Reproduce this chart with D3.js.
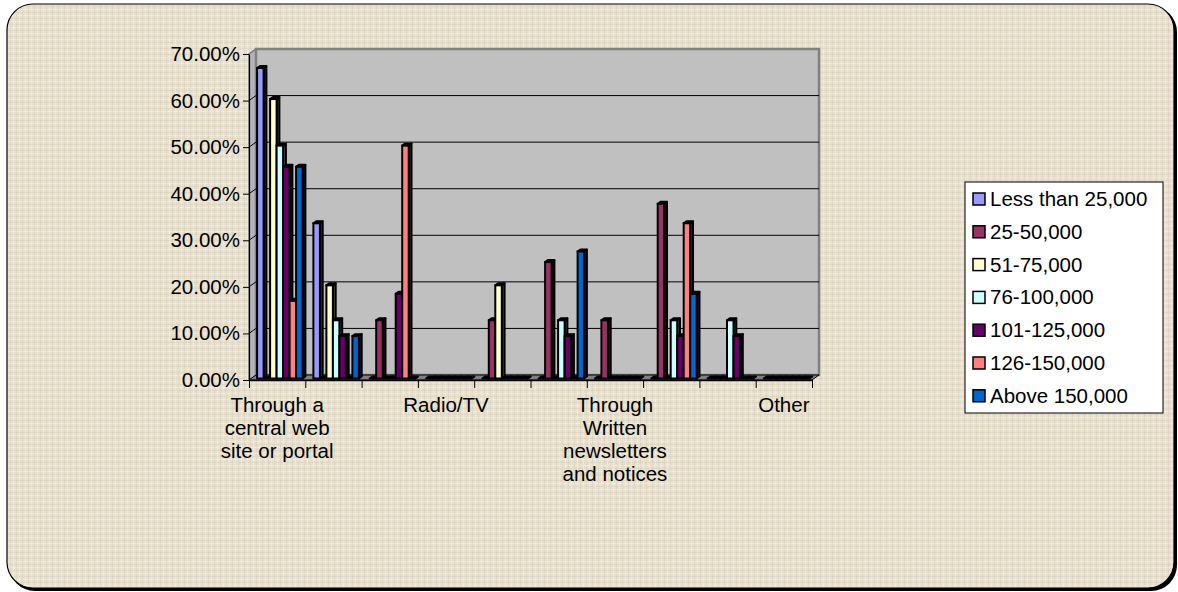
<!DOCTYPE html>
<html>
<head>
<meta charset="utf-8">
<script src="https://cdn.jsdelivr.net/npm/d3@7"></script>
<style>
  body { margin: 0; background: #fff; }
  svg text { font-family: Arial, "Liberation Sans", sans-serif; fill: #000; }
</style>
</head>
<body>
<div id="chart"></div>
<script>
// chart data (percent of respondents by income group)
var categories = [
  "Through a central web site or portal",
  "Through individual agency web sites",
  "Through e-mail",
  "Radio/TV",
  "Newspapers",
  "Public meetings",
  "Through Written newsletters and notices",
  "Telephone",
  "Kiosks",
  "Other"
];
// only every third category name is printed on the axis
var shownLabels = [0, 3, 6, 9];

var seriesNames = ["Less than 25,000", "25-50,000", "51-75,000", "76-100,000",
  "101-125,000", "126-150,000", "Above 150,000"];
var seriesColors = ["#9999FF", "#993366", "#FFFFCC", "#CCFFFF", "#660066", "#FF8080", "#0066CC"];

var lessThan25 = [66.67, 33.33, 0, 0, 0, 0, 0, 0, 0, 0];
var from25to50 = [0, 0, 12.5, 0, 12.5, 25, 12.5, 37.5, 0, 0];
var from51to75 = [60, 20, 0, 0, 20, 0, 0, 0, 0, 0];
var from76to100 = [50, 12.5, 0, 0, 0, 12.5, 0, 12.5, 12.5, 0];
var from101to125 = [45.45, 9.09, 18.18, 0, 0, 9.09, 0, 9.09, 9.09, 0];
var from126to150 = [16.67, 0, 50, 0, 0, 0, 0, 33.33, 0, 0];
var above150 = [45.45, 9.09, 0, 0, 0, 27.27, 0, 18.18, 0, 0];
var seriesValues = [lessThan25, from25to50, from51to75, from76to100, from101to125, from126to150, above150];

var yTicks = [0, 10, 20, 30, 40, 50, 60, 70];

// sizes
var svgWidth = 1178, svgHeight = 592;
var plot = { left: 249, right: 812, top: 54, bottom: 380 };
var depth = { dx: 7, dy: -5 };   // 3d offset of back wall
var fontSize = "20.5px";

var svg = d3.select("#chart").append("svg")
  .attr("width", svgWidth)
  .attr("height", svgHeight);

// linen-ish background pattern
var defs = svg.append("defs");
var pat = defs.append("pattern")
  .attr("id", "linen")
  .attr("patternUnits", "userSpaceOnUse")
  .attr("width", 12).attr("height", 12);
pat.append("rect").attr("width", 12).attr("height", 12).attr("fill", "#E7E0CF");
[[1, "#F4F0E6"], [4, "#D9D0BC"], [7, "#F2EDE2"], [10, "#DCD3C0"]].forEach(function(p) {
  pat.append("rect").attr("x", p[0]).attr("y", 0).attr("width", 1).attr("height", 12).attr("fill", p[1]).attr("opacity", 0.6);
  pat.append("rect").attr("x", 0).attr("y", (p[0] + 2) % 12).attr("width", 12).attr("height", 1).attr("fill", p[1]).attr("opacity", 0.6);
});

// frame with shadow
svg.append("rect")
  .attr("x", 9).attr("y", 6)
  .attr("width", 1168).attr("height", 585)
  .attr("rx", 26).attr("ry", 26)
  .attr("fill", "#000");
svg.append("rect")
  .attr("x", 7).attr("y", 4)
  .attr("width", 1167).attr("height", 584)
  .attr("rx", 26).attr("ry", 26)
  .attr("fill", "url(#linen)")
  .attr("stroke", "#000")
  .attr("stroke-width", 1.2);

// scales
var x = d3.scaleBand()
  .domain(d3.range(categories.length))
  .range([plot.left, plot.right]);

var xSeries = d3.scaleBand()
  .domain(d3.range(seriesNames.length))
  .range([6, 6 + 6.5 * seriesNames.length]);

var y = d3.scaleLinear()
  .domain([0, 70])
  .range([plot.bottom, plot.top]);

var chartGroup = svg.append("g");

// left side wall
chartGroup.append("path")
  .attr("d", d3.line()([
    [plot.left, plot.bottom], [plot.left, plot.top],
    [plot.left + depth.dx, plot.top + depth.dy], [plot.left + depth.dx, plot.bottom + depth.dy]
  ]) + "Z")
  .attr("fill", "#B4B4B4")
  .attr("stroke", "#808080")
  .attr("stroke-width", 1.5);

// back wall
chartGroup.append("rect")
  .attr("x", plot.left + depth.dx)
  .attr("y", plot.top + depth.dy)
  .attr("width", plot.right - plot.left)
  .attr("height", plot.bottom - plot.top)
  .attr("fill", "#C0C0C0")
  .attr("stroke", "#808080")
  .attr("stroke-width", 2.5);

// gridlines
chartGroup.selectAll(".grid")
  .data(yTicks.filter(function(t) { return t > 0 && t < 70; }))
  .enter().append("path")
  .attr("class", "grid")
  .attr("d", function(t) {
    return d3.line()([[plot.left, y(t)], [plot.left + depth.dx, y(t) + depth.dy],
      [plot.right + depth.dx, y(t) + depth.dy]]);
  })
  .attr("fill", "none")
  .attr("stroke", "#000")
  .attr("stroke-width", 1);

// floor
chartGroup.append("path")
  .attr("d", d3.line()([
    [plot.left, plot.bottom], [plot.right, plot.bottom],
    [plot.right + depth.dx, plot.bottom + depth.dy], [plot.left + depth.dx, plot.bottom + depth.dy]
  ]) + "Z")
  .attr("fill", "#808080")
  .attr("stroke", "#000")
  .attr("stroke-width", 1);

// bars, drawn cluster by cluster from left to right
var fz = 0.3, bz = 0.7;   // front and back of a bar inside the depth
var barPts = [];
categories.forEach(function(c, ci) {
  seriesNames.forEach(function(s, si) {
    barPts.push({ ci: ci, si: si, v: seriesValues[si][ci] });
  });
});

var barGroups = chartGroup.selectAll(".bar")
  .data(barPts)
  .enter().append("g")
  .attr("class", "bar");

barGroups.each(function(d) {
  var g = d3.select(this);
  var x0 = x(d.ci) + xSeries(d.si) + depth.dx * fz;
  var w = xSeries.bandwidth();
  var top = y(d.v) + depth.dy * fz;
  var bot = y(0) + depth.dy * fz;
  var ddx = depth.dx * (bz - fz), ddy = depth.dy * (bz - fz);
  var col = seriesColors[d.si];
  var dark = d3.color(col).darker(3.5).formatHex();
  var line = d3.line();
  // side face
  g.append("path")
    .attr("d", line([[x0 + w, top], [x0 + w + ddx, top + ddy], [x0 + w + ddx, bot + ddy], [x0 + w, bot]]) + "Z")
    .attr("fill", dark).attr("stroke", "#000").attr("stroke-width", 2).attr("stroke-linejoin", "round");
  // top face
  g.append("path")
    .attr("d", line([[x0, top], [x0 + w, top], [x0 + w + ddx, top + ddy], [x0 + ddx, top + ddy]]) + "Z")
    .attr("fill", dark).attr("stroke", "#000").attr("stroke-width", 2).attr("stroke-linejoin", "round");
  // front face
  if (d.v > 0) {
    g.append("rect")
      .attr("x", x0).attr("y", top)
      .attr("width", w).attr("height", bot - top)
      .attr("fill", col).attr("stroke", "#000").attr("stroke-width", 2);
  }
});

// y axis
var leftAxis = d3.axisLeft(y)
  .tickValues(yTicks)
  .tickSize(6)
  .tickSizeOuter(0)
  .tickPadding(3)
  .tickFormat(function(t) { return t.toFixed(2) + "%"; });

var yAxis = chartGroup.append("g")
  .attr("transform", "translate(" + plot.left + ",0)")
  .call(leftAxis);
yAxis.select(".domain").attr("stroke", "#000").attr("stroke-width", 1.2);
yAxis.selectAll("text").style("font-size", fontSize).attr("font-family", null);

// x axis (ticks at the category edges)
var xEdges = d3.scaleLinear().domain([0, categories.length]).range([plot.left, plot.right]);
var bottomAxis = d3.axisBottom(xEdges)
  .tickValues(d3.range(categories.length + 1))
  .tickSize(8)
  .tickSizeOuter(0)
  .tickFormat("");
var xAxis = chartGroup.append("g")
  .attr("transform", "translate(0," + plot.bottom + ")")
  .call(bottomAxis);
xAxis.select(".domain").attr("stroke", "#000").attr("stroke-width", 1.5);

// category labels, wrapped
function wrapLabel(textSel, maxW) {
  textSel.each(function() {
    var t = d3.select(this);
    var words = t.text().split(" ");
    var cx = t.attr("x");
    t.text(null);
    var lines = [], cur = [];
    var probe = t.append("tspan");
    words.forEach(function(wd) {
      cur.push(wd);
      probe.text(cur.join(" "));
      if (probe.node().getComputedTextLength() > maxW && cur.length > 1) {
        cur.pop();
        lines.push(cur.join(" "));
        cur = [wd];
      }
    });
    lines.push(cur.join(" "));
    probe.remove();
    lines.forEach(function(ln, i) {
      t.append("tspan").attr("x", cx).attr("dy", i === 0 ? 0 : 23).text(ln);
    });
  });
}

chartGroup.selectAll(".catLabel")
  .data(shownLabels)
  .enter().append("text")
  .attr("class", "catLabel")
  .attr("x", function(i) { return x(i) + x.bandwidth() / 2; })
  .attr("y", 412)
  .attr("text-anchor", "middle")
  .style("font-size", fontSize)
  .text(function(i) { return categories[i]; })
  .call(wrapLabel, 132);

// legend
var legend = svg.append("g").attr("transform", "translate(965,182)");
legend.append("rect")
  .attr("width", 198).attr("height", 231)
  .attr("fill", "#fff")
  .attr("stroke", "#000")
  .attr("stroke-width", 1);
var items = legend.selectAll(".item")
  .data(seriesNames)
  .enter().append("g")
  .attr("class", "item")
  .attr("transform", function(d, i) { return "translate(0," + (17 + i * 32.8) + ")"; });
items.append("rect")
  .attr("x", 8).attr("y", -6)
  .attr("width", 12).attr("height", 12)
  .attr("fill", function(d, i) { return seriesColors[i]; })
  .attr("stroke", "#000")
  .attr("stroke-width", 1.5);
items.append("text")
  .attr("x", 25).attr("y", 7)
  .style("font-size", fontSize)
  .text(function(d) { return d; });
</script>
</body>
</html>
